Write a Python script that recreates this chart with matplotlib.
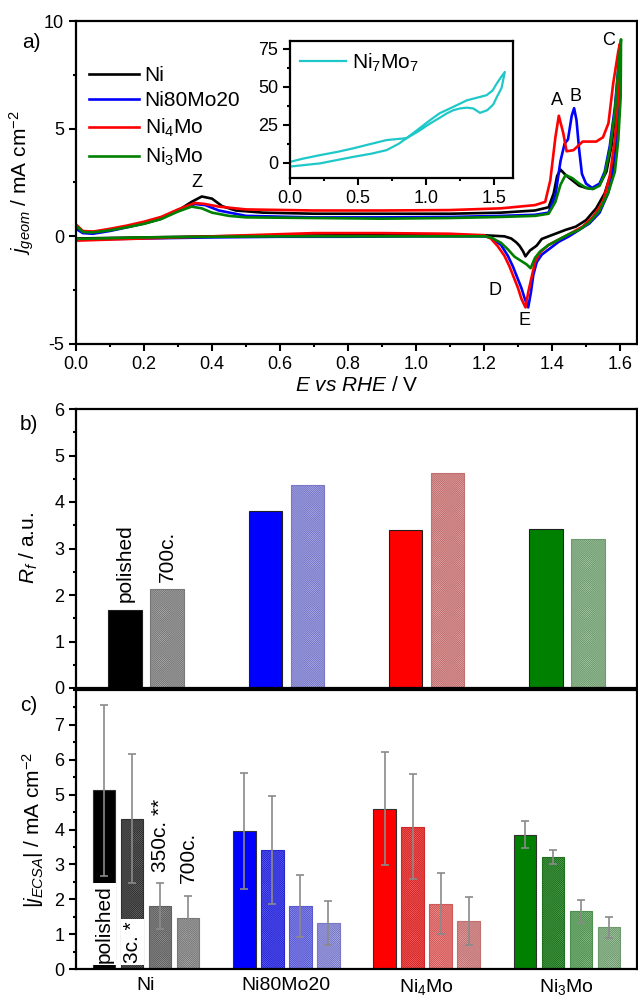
import numpy as np
import matplotlib.pyplot as plt
from matplotlib.ticker import MultipleLocator

plt.rcParams['font.family'] = ['Liberation Sans', 'DejaVu Sans']
plt.rcParams['mathtext.fontset'] = 'custom'
plt.rcParams['mathtext.rm'] = 'Liberation Sans'
plt.rcParams['mathtext.it'] = 'Liberation Sans:italic'
plt.rcParams['axes.unicode_minus'] = False
plt.rcParams['hatch.linewidth'] = 0.35

# ---------------- panel a: CVs, anodic sweep then cathodic sweep ----------------
ni_E = [0.0, 0.02, 0.05, 0.1, 0.15, 0.2, 0.25, 0.3, 0.34, 0.37,
        0.4, 0.43, 0.47, 0.55, 0.7, 0.9, 1.1, 1.25, 1.35, 1.39,
        1.405, 1.415, 1.425, 1.44, 1.46, 1.48, 1.5, 1.52, 1.54, 1.56,
        1.575, 1.59, 1.6,
        1.598, 1.59, 1.575, 1.555, 1.53, 1.5, 1.47, 1.44, 1.4, 1.37,
        1.355, 1.335, 1.322, 1.315, 1.305, 1.295, 1.28, 1.26, 1.2, 1.0,
        0.8, 0.6, 0.4, 0.2, 0.0]
ni_j = [0.45, 0.22, 0.2, 0.3, 0.45, 0.6, 0.82, 1.2, 1.6, 1.85,
        1.75, 1.4, 1.2, 1.1, 1.05, 1.05, 1.05, 1.1, 1.2, 1.35,
        2.0, 2.8, 3.1, 2.85, 2.6, 2.35, 2.25, 2.2, 2.4, 3.0,
        4.2, 6.2, 8.8,
        6.5, 4.5, 3.0, 2.0, 1.3, 0.75, 0.45, 0.3, 0.06, -0.12,
        -0.43, -0.66, -0.93, -0.7, -0.45, -0.28, -0.1, 0.0, 0.05, 0.05,
        0.05, 0.03, 0.0, -0.05, -0.1]

nimo20_E = [0.0, 0.02, 0.05, 0.1, 0.15, 0.2, 0.25, 0.3, 0.35, 0.38,
            0.42, 0.5, 0.7, 0.9, 1.1, 1.25, 1.35, 1.39, 1.41, 1.425,
            1.437, 1.447, 1.458, 1.465, 1.472, 1.48, 1.488, 1.5, 1.518, 1.54,
            1.555, 1.57, 1.585, 1.6,
            1.598, 1.592, 1.58, 1.565, 1.54, 1.51, 1.48, 1.45, 1.42, 1.395,
            1.37, 1.355, 1.345, 1.338, 1.33, 1.32, 1.31, 1.3, 1.285, 1.27,
            1.25, 1.22, 1.2, 1.0, 0.8, 0.6, 0.4, 0.2, 0.0]
nimo20_j = [0.35, 0.15, 0.12, 0.25, 0.42, 0.6, 0.82, 1.2, 1.5, 1.45,
            1.2, 0.95, 0.88, 0.88, 0.9, 0.95, 1.0, 1.1, 1.9, 3.5,
            4.3, 4.5, 5.6, 5.95, 5.4, 4.0, 2.9, 2.45, 2.25, 2.45,
            3.0, 4.2, 6.0, 8.7,
            6.5, 4.5, 3.0, 2.0, 1.1, 0.6, 0.3, 0.0, -0.25, -0.55,
            -0.85, -1.2, -1.8, -2.6, -3.3, -2.9, -2.4, -2.0, -1.4, -0.9,
            -0.4, -0.05, 0.0, 0.0, -0.02, -0.02, -0.05, -0.1, -0.15]

ni4mo_E = [0.0, 0.02, 0.05, 0.1, 0.15, 0.2, 0.25, 0.3, 0.35, 0.38,
           0.42, 0.5, 0.7, 0.9, 1.1, 1.25, 1.35, 1.38, 1.395, 1.41,
           1.42, 1.433, 1.443, 1.463, 1.49, 1.53, 1.55, 1.566, 1.58, 1.595,
           1.6,
           1.595, 1.585, 1.57, 1.55, 1.52, 1.49, 1.45, 1.42, 1.39, 1.365,
           1.35, 1.34, 1.33, 1.322, 1.31, 1.3, 1.29, 1.275, 1.26, 1.24,
           1.22, 1.2, 1.1, 0.9, 0.7, 0.5, 0.3, 0.1, 0.0]
ni4mo_j = [0.55, 0.25, 0.22, 0.35, 0.5, 0.68, 0.9, 1.25, 1.55, 1.5,
           1.38, 1.25, 1.2, 1.2, 1.22, 1.3, 1.45, 1.6, 2.6, 4.6,
           5.6, 4.8, 3.95, 4.0, 4.4, 4.4, 4.6, 5.25, 7.1, 8.6,
           8.95,
           6.5, 4.5, 2.8, 1.6, 0.9, 0.45, 0.1, -0.15, -0.4, -0.75,
           -1.2, -1.9, -2.6, -3.3, -2.9, -2.4, -2.0, -1.4, -0.9, -0.45,
           -0.1, 0.05, 0.12, 0.15, 0.15, 0.05, -0.05, -0.15, -0.2]

ni3mo_E = [0.0, 0.02, 0.05, 0.1, 0.15, 0.2, 0.25, 0.3, 0.34, 0.37,
           0.4, 0.45, 0.5, 0.7, 0.9, 1.1, 1.25, 1.35, 1.39, 1.41,
           1.425, 1.44, 1.46, 1.48, 1.5, 1.52, 1.54, 1.555, 1.57, 1.585,
           1.595, 1.603,
           1.602, 1.595, 1.585, 1.565, 1.54, 1.51, 1.48, 1.45, 1.42, 1.39,
           1.365, 1.35, 1.337, 1.325, 1.31, 1.29, 1.27, 1.25, 1.22, 1.2,
           1.0, 0.8, 0.6, 0.4, 0.2, 0.0]
ni3mo_j = [0.5, 0.2, 0.18, 0.28, 0.42, 0.58, 0.8, 1.15, 1.38, 1.3,
           1.1, 0.95, 0.88, 0.85, 0.82, 0.85, 0.9, 0.95, 1.05, 1.6,
           2.4, 2.85, 2.7, 2.45, 2.25, 2.2, 2.35, 2.9, 4.0, 5.8,
           7.8, 9.15,
           6.5, 4.5, 3.0, 2.0, 1.2, 0.65, 0.3, 0.1, -0.15, -0.4,
           -0.7, -1.0, -1.48, -1.3, -1.15, -0.95, -0.6, -0.3, -0.05, 0.0,
           0.0, 0.0, 0.0, -0.02, -0.05, -0.12]

# inset Ni7Mo7
ni7mo7_E = [0.0, 0.22, 0.466, 0.6, 0.71, 0.8, 0.858, 0.95, 1.03, 1.1,
            1.2, 1.3, 1.446, 1.49, 1.52, 1.55, 1.58,
            1.556, 1.52, 1.495, 1.45, 1.397, 1.348, 1.3, 1.25, 1.2,
            1.152, 1.1, 1.03, 0.95, 0.858, 0.71, 0.6, 0.466, 0.35, 0.22,
            0.1, 0.0]
ni7mo7_j = [-2.5, -0.4, 3.9, 6.0, 8.3, 12.5, 16.2, 22.5, 28, 32.5,
            36.7, 41, 44.4, 47.5, 52, 56, 59.7,
            49.2, 43, 38.3, 34.5, 32.8, 35.7, 36.2, 35.7, 34.5,
            32.4, 29.5, 25.8, 21, 16.2, 14.9, 12.5, 9.5, 7.2, 5.0,
            2.8, 0.6]

cv_labels = ['Ni', 'Ni80Mo20', 'Ni$_4$Mo', 'Ni$_3$Mo']
cv_colors = ['black', '#0000ff', '#ff0000', '#008000']

peak_names = ['Z', 'A', 'B', 'C', 'D', 'E']
peak_E = [0.356, 1.415, 1.468, 1.565, 1.232, 1.32]
peak_j = [2.48, 6.3, 6.5, 9.1, -2.5, -3.93]

# ---------------- panels b and c ----------------
groups = ['Ni', 'Ni80Mo20', 'Ni$_4$Mo', 'Ni$_3$Mo']
rf_polished = [1.68, 3.81, 3.39, 3.41]
rf_700c = [2.12, 4.37, 4.63, 3.21]

j_polished = [5.12, 3.95, 4.60, 3.85]
j_polished_err = [2.45, 1.66, 1.63, 0.38]
j_3c = [4.31, 3.40, 4.08, 3.21]
j_3c_err = [1.85, 1.55, 1.50, 0.21]
j_350c = [1.82, 1.81, 1.87, 1.66]
j_350c_err = [0.66, 0.88, 0.88, 0.33]
j_700c = [1.46, 1.32, 1.38, 1.20]
j_700c_err = [0.62, 0.63, 0.68, 0.30]

col_solid = ['#000000', '#0000ff', '#ff0000', '#008000']
col_3c = ['#6a6a6a', '#6464ff', '#ff6464', '#4fa84f']
edge_3c = ['#303030', '#2828d0', '#d02828', '#207020']
col_350c = ['#959595', '#9494f4', '#f49494', '#8cc48c']
edge_350c = ['#606060', '#5a5ad0', '#d05a5a', '#4f8f4f']
col_700c = ['#b0b0b0', '#b0b0e8', '#e4a8a8', '#a8cca8']
edge_700c = ['#787878', '#7878c8', '#c07070', '#6f9a6f']

fig = plt.figure(figsize=(6.38, 9.97), dpi=100)
ax_a = fig.add_axes([76/638, 1-344/997, 561/638, 323/997])
ax_in = fig.add_axes([290/638, 1-178/997, 223/638, 137/997])
ax_b = fig.add_axes([76/638, 1-688/997, 561/638, 279/997])
ax_c = fig.add_axes([76/638, 1-969/997, 561/638, 279/997])

for ax in [ax_a, ax_in, ax_b, ax_c]:
    for s in ax.spines.values():
        s.set_linewidth(1.6)
    ax.tick_params(which='both', direction='out', top=False, right=False,
                   width=1.5, labelsize=13)
    ax.tick_params(which='major', length=5)
    ax.tick_params(which='minor', length=2.5)

# panel a
curves = [(ni_E, ni_j), (nimo20_E, nimo20_j), (ni4mo_E, ni4mo_j), (ni3mo_E, ni3mo_j)]
for (E, j), lab, c in zip(curves, cv_labels, cv_colors):
    ax_a.plot(E, j, color=c, lw=1.9, label=lab)
for name, xx, yy in zip(peak_names, peak_E, peak_j):
    ax_a.text(xx, yy, name, ha='center', va='center', fontsize=13)
ax_a.set_xlim(0, 1.65)
ax_a.set_ylim(-5, 10)
ax_a.xaxis.set_major_locator(MultipleLocator(0.2))
ax_a.xaxis.set_minor_locator(MultipleLocator(0.1))
ax_a.yaxis.set_major_locator(MultipleLocator(5))
ax_a.yaxis.set_minor_locator(MultipleLocator(2.5))
ax_a.xaxis.set_major_formatter(plt.FormatStrFormatter('%.1f'))
ax_a.set_xlabel(r'$E\ vs\ RHE$ / V', fontsize=15, labelpad=2)
ax_a.set_ylabel(r'$j_{geom}$ / mA cm$^{-2}$', fontsize=15, labelpad=6)
ax_a.legend(loc='upper left', bbox_to_anchor=(0.0, 0.9), frameon=False,
            fontsize=15, handlelength=2.4, labelspacing=0.32, borderaxespad=0.2,
            handletextpad=0.3)
fig.text(22/638, 1-43/997, 'a)', fontsize=15, va='center')

# inset
ax_in.plot(ni7mo7_E, ni7mo7_j, color='#1fc8c8', lw=1.6, label='Ni$_7$Mo$_7$')
ax_in.set_xlim(0, 1.64)
ax_in.set_ylim(-10, 80)
ax_in.xaxis.set_major_locator(MultipleLocator(0.5))
ax_in.xaxis.set_minor_locator(MultipleLocator(0.25))
ax_in.yaxis.set_major_locator(MultipleLocator(25))
ax_in.yaxis.set_minor_locator(MultipleLocator(12.5))
ax_in.xaxis.set_major_formatter(plt.FormatStrFormatter('%.1f'))
ax_in.legend(loc='upper left', frameon=False, fontsize=15, handlelength=2.2,
             borderaxespad=0.1, handletextpad=0.3)

# panel b
x = np.arange(len(groups))
ax_b.bar(x - 0.15, rf_polished, 0.24, color=col_solid, edgecolor='#202020', lw=0.8, zorder=2)
ax_b.bar(x + 0.15, rf_700c, 0.24, color=col_700c, edgecolor=edge_700c, lw=0.8,
         hatch='x' * 16, zorder=2)
ax_b.text(-0.15, 1.85, 'polished', rotation=90, ha='center', va='bottom', fontsize=15)
ax_b.text(0.15, 2.28, '700c.', rotation=90, ha='center', va='bottom', fontsize=15)
ax_b.set_xlim(-0.5, 3.5)
ax_b.set_ylim(0, 6)
ax_b.set_xticks([])
ax_b.yaxis.set_major_locator(MultipleLocator(1))
ax_b.yaxis.set_minor_locator(MultipleLocator(0.5))
ax_b.set_ylabel(r'$R_f$ / a.u.', fontsize=15, labelpad=10)
fig.text(20/638, 1-424/997, 'b)', fontsize=15, va='center')

# panel c
ek = dict(ecolor='#8a8a8a', elinewidth=1.2, capsize=3, capthick=1.2, zorder=3)
ax_c.bar(x - 0.3, j_polished, 0.16, color=col_solid, edgecolor='#303030', lw=0.8, zorder=2)
ax_c.errorbar(x - 0.3, j_polished, yerr=j_polished_err, fmt='none', **ek)
ax_c.bar(x - 0.1, j_3c, 0.16, color=col_3c, edgecolor=edge_3c, lw=0.8,
         hatch='x' * 16, zorder=2)
ax_c.errorbar(x - 0.1, j_3c, yerr=j_3c_err, fmt='none', **ek)
ax_c.bar(x + 0.1, j_350c, 0.16, color=col_350c, edgecolor=edge_350c, lw=0.8,
         hatch='x' * 16, zorder=2)
ax_c.errorbar(x + 0.1, j_350c, yerr=j_350c_err, fmt='none', **ek)
ax_c.bar(x + 0.3, j_700c, 0.16, color=col_700c, edgecolor=edge_700c, lw=0.8,
         hatch='x' * 16, zorder=2)
ax_c.errorbar(x + 0.3, j_700c, yerr=j_700c_err, fmt='none', **ek)

box = dict(facecolor='white', edgecolor='none', pad=1.5)
ax_c.text(-0.3, 0.17, 'polished', rotation=90, ha='center', va='bottom', fontsize=15,
          bbox=box, zorder=5)
ax_c.text(-0.1, 0.17, '3c. *', rotation=90, ha='center', va='bottom', fontsize=15,
          bbox=box, zorder=5)
ax_c.text(0.1, 2.78, '350c. **', rotation=90, ha='center', va='bottom', fontsize=15)
ax_c.text(0.3, 2.46, '700c.', rotation=90, ha='center', va='bottom', fontsize=15)
ax_c.set_xlim(-0.5, 3.5)
ax_c.set_ylim(0, 8)
ax_c.set_xticks(x)
ax_c.set_xticklabels(groups, fontsize=14)
ax_c.tick_params(axis='x', length=0, pad=6)
ax_c.set_yticks(range(0, 8))
ax_c.yaxis.set_minor_locator(MultipleLocator(0.5))
ax_c.set_ylabel(r'$|j_{ECSA}|$ / mA cm$^{-2}$', fontsize=15, labelpad=6)
fig.text(20/638, 1-705/997, 'c)', fontsize=15, va='center')

fig.savefig('out.png', dpi=100)
